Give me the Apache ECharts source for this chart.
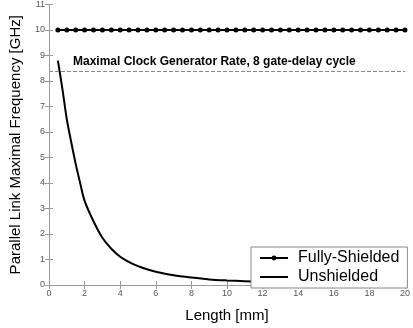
<!DOCTYPE html>
<html>
<head>
<meta charset="utf-8">
<script src="https://cdn.jsdelivr.net/npm/echarts@6/dist/echarts.min.js"></script>
<style>
  html, body { margin: 0; padding: 0; background: #fff; }
  #chart { width: 413px; height: 328px; }
</style>
</head>
<body>
<div id="chart"></div>
<script>
// fully shielded link: flat at 10 GHz
const lengthFull = [0.5, 1, 1.5, 2, 2.5, 3, 3.5, 4, 4.5, 5, 5.5, 6, 6.5, 7, 7.5, 8, 8.5, 9, 9.5, 10,
  10.5, 11, 11.5, 12, 12.5, 13, 13.5, 14, 14.5, 15, 15.5, 16, 16.5, 17, 17.5, 18, 18.5, 19, 19.5, 20];
const freqFull = [10, 10, 10, 10, 10, 10, 10, 10, 10, 10, 10, 10, 10, 10, 10, 10, 10, 10, 10, 10,
  10, 10, 10, 10, 10, 10, 10, 10, 10, 10, 10, 10, 10, 10, 10, 10, 10, 10, 10, 10];

// unshielded link
const lengthUn = [0.5, 0.75, 1, 1.25, 1.5, 1.75, 2, 2.5, 3, 3.5, 4, 4.5, 5, 5.5, 6, 7, 8, 9, 10,
  11, 12, 13, 14, 15, 16, 17, 18, 19, 20];
const freqUn = [8.8, 7.7, 6.5, 5.6, 4.75, 4.0, 3.3, 2.5, 1.85, 1.42, 1.11, 0.9, 0.74, 0.62, 0.52, 0.38, 0.29, 0.22, 0.18,
  0.15, 0.12, 0.1, 0.09, 0.08, 0.07, 0.06, 0.055, 0.05, 0.045];

const clockRate = 8.38;
const xTicks = [0, 20, 2];
const yTicks = [0, 11, 1];

const font = "Liberation Sans, Arial, sans-serif";

let myChart = echarts.init(document.getElementById("chart"));

let tickAxis = {
  axisLine: { show: true, lineStyle: { color: "#999", width: 1 } },
  axisTick: { show: true, inside: true, length: 4, lineStyle: { color: "#999" } },
  splitLine: { show: false }
};

let option = {
  animation: false,
  backgroundColor: "#fff",
  grid: { left: 44, right: 8, top: 4, bottom: 37 },
  legend: {
    orient: "vertical",
    left: 251,
    top: 247,
    padding: [3, 8, 3, 8],
    itemGap: 3,
    itemWidth: 28,
    itemHeight: 6,
    backgroundColor: "#fff",
    borderColor: "#888",
    borderWidth: 1,
    borderRadius: 0,
    textStyle: { fontFamily: font, fontSize: 16, color: "#000", padding: [0, 0, 0, 5] },
    data: [
      { name: "Fully-Shielded" },
      // plain line icon, empty moves keep the box 6 px tall
      { name: "Unshielded", icon: "path://M0,0L0,0M0,2L28,2L28,4L0,4ZM28,6L28,6" }
    ]
  },
  graphic: [{
    type: "text",
    left: 73,
    top: 56,
    style: {
      text: "Maximal Clock Generator Rate, 8 gate-delay cycle",
      font: "bold 12px " + font,
      fill: "#000"
    }
  }],
  xAxis: [
    Object.assign({}, tickAxis, {
      type: "value",
      min: xTicks[0],
      max: xTicks[1],
      interval: xTicks[2],
      name: "Length [mm]",
      nameLocation: "middle",
      nameGap: 23,
      nameTextStyle: { fontFamily: font, fontSize: 15, color: "#000" },
      axisLabel: { fontFamily: font, fontSize: 9, color: "#555", margin: 4 }
    }),
    Object.assign({}, tickAxis, {
      type: "value",
      position: "top",
      min: xTicks[0],
      max: xTicks[1],
      interval: xTicks[2],
      axisLabel: { show: false }
    })
  ],
  yAxis: [
    Object.assign({}, tickAxis, {
      type: "value",
      min: yTicks[0],
      max: yTicks[1],
      interval: yTicks[2],
      name: "Parallel Link Maximal Frequency [GHz]",
      nameLocation: "middle",
      nameGap: 26,
      nameTextStyle: { fontFamily: font, fontSize: 15, color: "#000" },
      axisLabel: { fontFamily: font, fontSize: 9, color: "#555", margin: 4 }
    }),
    Object.assign({}, tickAxis, {
      type: "value",
      position: "right",
      min: yTicks[0],
      max: yTicks[1],
      interval: yTicks[2],
      axisLabel: { show: false }
    })
  ],
  series: [
    {
      name: "Fully-Shielded",
      type: "line",
      data: lengthFull.map((x, i) => [x, freqFull[i]]),
      symbol: "circle",
      symbolSize: 5,
      lineStyle: { color: "#000", width: 2 },
      itemStyle: { color: "#000" },
      markLine: {
        silent: true,
        symbol: "none",
        label: { show: false },
        lineStyle: { color: "#888", type: [4, 2], width: 1 },
        data: [{ yAxis: clockRate }]
      }
    },
    {
      name: "Unshielded",
      type: "line",
      data: lengthUn.map((x, i) => [x, freqUn[i]]),
      symbol: "none",
      smooth: 0.3,
      lineStyle: { color: "#000", width: 2 },
      itemStyle: { color: "#000" }
    }
  ]
};

myChart.setOption(option);
</script>
</body>
</html>
